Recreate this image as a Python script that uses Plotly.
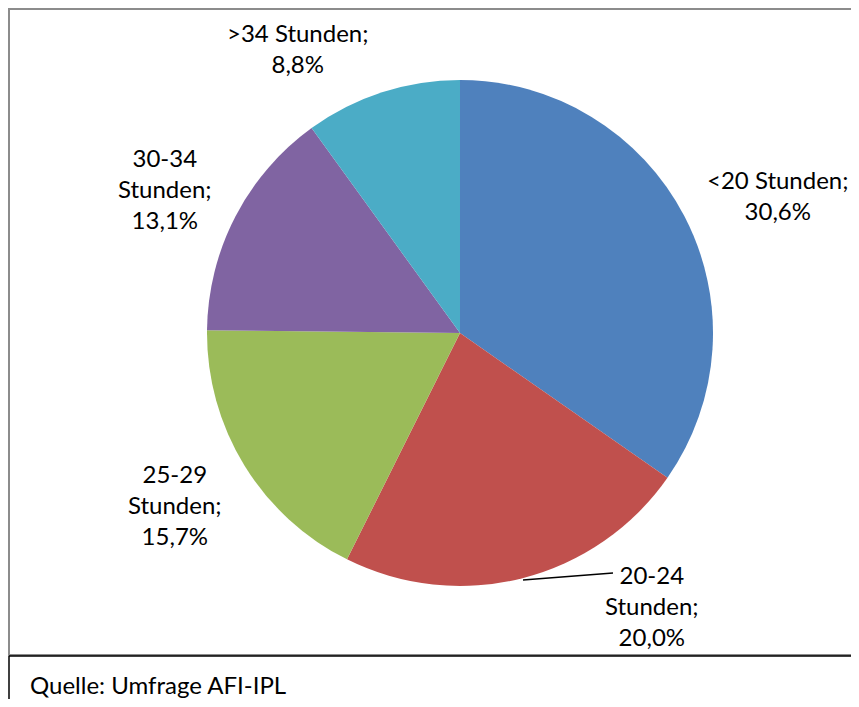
import plotly.graph_objects as go

# Arbeitszeit je Woche (Anteile in %)
categories = ["<20 Stunden", "20-24 Stunden", "25-29 Stunden", "30-34 Stunden", ">34 Stunden"]
shares = [30.6, 20.0, 15.7, 13.1, 8.8]
share_labels = ["30,6%", "20,0%", "15,7%", "13,1%", "8,8%"]
source_note = "Quelle: Umfrage AFI-IPL"

colors = ["#4F81BD", "#C0504D", "#9BBB59", "#8064A2", "#4BACC6"]

# the page body keeps its default 8px margin, so the figure is shrunk to fit the window
PAGE_W, PAGE_H = 859, 707
BODY = 8
W, H = PAGE_W - 2 * BODY, PAGE_H - 2 * BODY


def px(x, y):
    """Window pixel -> paper coordinates."""
    return (x - BODY) / W, 1 - (y - BODY) / H


dx0, dy0 = px(207, 586)
dx1, dy1 = px(713, 80)
fig = go.Figure(
    go.Pie(
        labels=categories,
        values=shares,
        sort=False,
        direction="clockwise",
        rotation=0,
        marker=dict(colors=colors, line=dict(width=0)),
        textinfo="none",
        hoverinfo="label+percent",
        domain=dict(x=[dx0, dx1], y=[dy0, dy1]),
        showlegend=False,
    )
)

# label text and placement (pixel centres as in the original)
label_pos = [(778, 195), (652, 605), (175, 505), (165, 188), (298, 48)]
split_two = [True, False, False, False, True]
for cat, lab, (lx, ly), two in zip(categories, share_labels, label_pos, split_two):
    head, unit = cat.split(" ")
    if two:
        txt = f"{head} {unit};<br>{lab}"
    else:
        txt = f"{head}<br>{unit};<br>{lab}"
    x, y = px(lx, ly)
    fig.add_annotation(
        x=x, y=y, xref="paper", yref="paper", text=txt, showarrow=False,
        xanchor="center", yanchor="middle", align="center",
        font=dict(family="Lato", size=24, color="#000000"),
    )

# leader line for 20-24
x0, y0 = px(523, 580)
x1, y1 = px(613, 573)
fig.add_shape(type="line", xref="paper", yref="paper", x0=x0, y0=y0, x1=x1, y1=y1,
              line=dict(color="#000000", width=1.5))

# chart frame (grey) and source box (black)
fx0, fy0 = px(9, 655)
fx1, fy1 = px(870, 9)
fig.add_shape(type="rect", xref="paper", yref="paper",
              x0=fx0, x1=fx1, y0=fy0, y1=fy1,
              line=dict(color="#8C8C8C", width=2))
bx0, by0 = px(9, 656)
bx1, by1 = px(870, 720)
fig.add_shape(type="line", xref="paper", yref="paper",
              x0=bx0, x1=bx1, y0=by0, y1=by0,
              line=dict(color="#000000", width=1.5))
fig.add_shape(type="line", xref="paper", yref="paper",
              x0=bx0, x1=bx0, y0=by0, y1=by1,
              line=dict(color="#000000", width=1.5))

qx, qy = px(28, 684)
fig.add_annotation(
    x=qx, y=qy, xref="paper", yref="paper", text=source_note,
    showarrow=False, xanchor="left", yanchor="middle",
    font=dict(family="Lato", size=24, color="#000000"),
)

fig.update_layout(
    width=W,
    height=H,
    margin=dict(l=0, r=0, t=0, b=0),
    paper_bgcolor="#FFFFFF",
    plot_bgcolor="#FFFFFF",
)

fig.write_html("out.html")
